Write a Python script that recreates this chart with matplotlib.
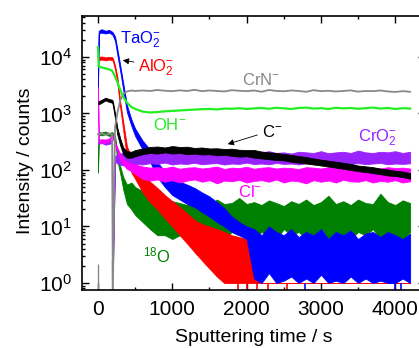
import numpy as np
import matplotlib
matplotlib.use('Agg')
import matplotlib.pyplot as plt
from matplotlib.ticker import MultipleLocator, LogLocator, NullFormatter

plt.rcParams['font.family'] = ['Liberation Sans', 'DejaVu Sans']
plt.rcParams['mathtext.fontset'] = 'custom'
plt.rcParams['mathtext.rm'] = 'Liberation Sans'
plt.rcParams['mathtext.it'] = 'Liberation Sans:italic'

# sputtering time grid (s)
t = [0, 10, 50, 100, 150, 190, 200, 230, 260, 300, 340, 390, 450, 500,
     600, 700, 800, 900, 1000, 1100, 1200, 1300, 1400, 1500, 1600, 1700,
     1800, 1900, 2000, 2100, 2200, 2300, 2400, 2500, 2600, 2700, 2800,
     2900, 3000, 3100, 3200, 3300, 3400, 3500, 3600, 3700, 3800, 3900,
     4000, 4100, 4200]

# CrN- (grey) and OH- (light green): narrow traces
crn = [430, 430, 440, 420, 435, 430, 0.7, 575, 1000, 1700, 2200, 2450, 2550, 2500,
       2550, 2500, 2600, 2520, 2480, 2560, 2500, 2620, 2480, 2550, 2500, 2450,
       2580, 2520, 2480, 2550, 2420, 2600, 2500, 2470, 2550, 2500, 2420,
       2580, 2480, 2520, 2450, 2500, 2560, 2430, 2500, 2480, 2550, 2450,
       2400, 2480, 2420]
oh = [15000, 6800, 6500, 6300, 6000, 5700, 5400, 4500, 3600, 2600, 1950, 1550, 1300, 1200,
      1080, 1040, 1060, 1090, 1110, 1130, 1150, 1170, 1190, 1200, 1180, 1220,
      1210, 1240, 1200, 1230, 1250, 1210, 1260, 1230, 1200, 1250, 1270,
      1220, 1240, 1200, 1260, 1230, 1250, 1210, 1240, 1270, 1220, 1250,
      1200, 1240, 1220]

# noisy traces: lower / upper envelope
tao2_lo = [2900, 26000, 27000, 26000, 27000, 25000, 24000, 19000, 11000, 5500, 2600, 1050, 600, 400,
           230, 140, 75, 50, 36, 30, 25, 22, 18, 15, 12, 10,
           8, 7, 6, 1.2, 1.0, 1.5, 1.0, 1.1, 1.3, 1.0, 1.2,
           1.0, 1.4, 1.0, 1.1, 1.0, 1.3, 1.0, 1.2, 1.0, 1.1, 1.0,
           1.0, 1.2, 1.0]
tao2_hi = [2900, 29000, 31000, 29000, 30000, 28000, 27000, 23000, 14000, 7000, 3400, 1400, 780, 540,
           330, 230, 135, 95, 72, 62, 55, 48, 40, 34, 27, 21,
           15, 12, 10, 9, 7, 10, 8, 7, 9, 6.5, 8,
           7, 9, 6, 8, 7, 8.5, 6, 7.5, 8, 6.5, 8,
           7, 6, 7.5]

alo2_lo = [9000, 8800, 9000, 8700, 9000, 8800, 8500, 6000, 3500, 1250, 500, 160, 90, 70,
           40, 27, 20, 14, 10, 7, 5, 3.5, 2.5, 1.8, 1.3, 1.0,
           1.0, 1.0, 1.0, 1.0, 1.0, 1.0, 1.0, 1.0, 1.0, 1.0, 1.0,
           1.0, 1.0, 1.0, 1.0, 1.0, 1.0, 1.0, 1.0, 1.0, 1.0, 1.0,
           1.0, 1.0, 1.0]
alo2_hi = [9000, 10000, 10200, 9800, 10000, 9900, 9500, 7000, 4500, 1600, 700, 260, 170, 130,
           85, 62, 48, 36, 28, 22, 17, 13, 11, 10, 9, 8,
           7, 6.5, 6, 2, 1.0, 1.0, 1.0, 1.0, 1.0, 1.0, 1.0,
           1.0, 1.0, 1.0, 1.0, 1.0, 1.0, 1.0, 1.0, 1.0, 1.0, 1.0,
           1.0, 1.0, 1.0]

o18_lo = [90, 420, 410, 430, 400, 420, 400, 330, 150, 85, 45, 25, 20, 16,
          12, 9, 7, 7, 6, 7, 6, 8, 5, 7, 8, 6,
          8, 7, 9, 6, 8, 7, 6, 9, 7, 8, 6,
          7, 9, 6, 8, 7, 6, 8, 7, 9, 6, 8,
          7, 6, 8]
o18_hi = [90, 470, 460, 480, 450, 470, 450, 400, 200, 115, 75, 55, 60, 50,
          42, 35, 32, 30, 28, 26, 24, 28, 25, 24, 30, 25,
          26, 32, 25, 27, 24, 29, 26, 23, 28, 25, 30,
          24, 27, 35, 25, 28, 24, 30, 26, 25, 38, 27,
          24, 29, 26]

c_lo = [1500, 1450, 1550, 1700, 1600, 1550, 1400, 800, 420, 270, 190, 165, 165, 175,
        190, 200, 195, 205, 195, 200, 190, 195, 188, 190, 182, 185,
        178, 172, 175, 165, 160, 155, 150, 148, 140, 135, 130,
        125, 120, 115, 110, 105, 100, 95, 92, 88, 84, 80,
        78, 75, 70]
c_hi = [1500, 1650, 1750, 1900, 1800, 1750, 1650, 1000, 560, 360, 250, 215, 210, 225,
        240, 255, 260, 250, 265, 255, 258, 245, 250, 240, 242, 235,
        238, 228, 225, 226, 212, 205, 200, 192, 185, 176, 170,
        160, 152, 146, 140, 134, 128, 120, 116, 112, 106, 102,
        97, 94, 88]

cro2_lo = [300, 290, 300, 280, 290, 300, 1.5, 140, 130, 125, 120, 125, 130, 128,
           125, 132, 128, 135, 125, 130, 128, 134, 126, 130, 132, 125,
           130, 128, 135, 127, 130, 126, 133, 128, 130, 125, 132,
           128, 130, 134, 126, 130, 128, 132, 127, 130, 133, 126,
           130, 128, 131]
cro2_hi = [300, 330, 340, 320, 330, 340, 1.5, 175, 190, 195, 200, 205, 195, 210,
           200, 205, 195, 215, 200, 205, 195, 210, 200, 205, 215, 195,
           205, 200, 210, 198, 205, 215, 200, 205, 195, 210, 205,
           200, 215, 198, 205, 210, 200, 220, 205, 200, 210, 205,
           215, 200, 210]

cl_lo = [2900, 300, 310, 300, 320, 380, 360, 270, 210, 155, 125, 105, 95, 85,
         70, 65, 68, 62, 66, 60, 65, 68, 62, 66, 58, 65,
         63, 67, 60, 64, 66, 62, 68, 60, 65, 63, 58,
         66, 62, 65, 60, 67, 63, 62, 66, 60, 64, 62,
         66, 60, 63]
cl_hi = [2900, 340, 350, 345, 360, 430, 410, 310, 250, 190, 160, 140, 130, 125,
         115, 110, 112, 108, 115, 105, 110, 112, 106, 110, 115, 104,
         110, 108, 114, 105, 110, 112, 106, 110, 108, 104, 112,
         110, 106, 112, 108, 110, 104, 112, 108, 110, 106, 112,
         108, 110, 106]

# zero-count drops and the grey stubs near the start
alo2_zero_t = [1880, 2000, 2140, 2290, 2540]
tao2_zero_t = [2780, 4000, 4080]
crn_stub_t = [0, 190]
crn_stub_top = [2.2, 2.6]

fig = plt.figure(figsize=(4.19, 3.48), dpi=100)
ax = fig.add_axes([82 / 419, 58 / 348, 343 / 419, 274 / 348])

ax.plot(t, crn, color='#888888', lw=1.3)
ax.vlines(crn_stub_t, 0.5, crn_stub_top, color='#888888', lw=1.0)
ax.fill_between(t, o18_lo, o18_hi, color='#008000', lw=0.6)
ax.fill_between(t, alo2_lo, alo2_hi, color='#ff0000', lw=0.6)
ax.vlines(alo2_zero_t, 0.5, 1.0, color='#ff0000', lw=1.2)
ax.fill_between(t, tao2_lo, tao2_hi, color='#0000ff', lw=0.6)
ax.vlines(tao2_zero_t, 0.5, 1.0, color='#0000ff', lw=1.2)
ax.plot(t, oh, color='#22ee22', lw=1.6)
ax.fill_between(t, cro2_lo, cro2_hi, color='#9922ff', lw=0.6)
ax.fill_between(t, cl_lo, cl_hi, color='#ff00ff', lw=0.6)
ax.fill_between(t, c_lo, c_hi, color='#000000', lw=0.6)

ax.set_yscale('log')
ax.set_xlim(-215, 4400)
ax.set_ylim(0.752, 53000)
ax.xaxis.set_major_locator(MultipleLocator(1000))
ax.xaxis.set_minor_locator(MultipleLocator(500))
ax.yaxis.set_major_locator(LogLocator(base=10, numticks=10))
ax.yaxis.set_minor_locator(LogLocator(base=10, subs=np.arange(2, 10), numticks=10))
ax.yaxis.set_minor_formatter(NullFormatter())
ax.tick_params(which='both', direction='in', top=True, right=True, labelsize=15, width=1.0)
ax.tick_params(which='major', length=5, pad=7)
ax.tick_params(which='minor', length=2.5)
for s in ax.spines.values():
    s.set_linewidth(1.2)

fig.text(254 / 419, 1 - 338 / 348, 'Sputtering time / s', ha='center', va='center', fontsize=14)
fig.text(25 / 419, 1 - 161 / 348, 'Intensity / counts', ha='center', va='center',
         rotation=90, fontsize=14)

# species labels
ax.text(296, 17600, 'TaO$_2^{-}$', color='#0000ff', fontsize=12, va='baseline')
ax.text(538, 5430, 'AlO$_2^{-}$', color='#ff0000', fontsize=12, va='baseline')
ax.annotate('', xy=(296, 8850), xytext=(520, 8000),
            arrowprops=dict(arrowstyle='-|>', color='black', lw=0.6, mutation_scale=9))
ax.text(1938, 3190, 'CrN$^{-}$', color='#888888', fontsize=12, va='baseline')
ax.text(740, 511, 'OH$^{-}$', color='#22ee22', fontsize=12, va='baseline')
ax.text(2207, 384, 'C$^{-}$', color='black', fontsize=12, va='baseline')
ax.annotate('', xy=(1709, 277), xytext=(2180, 430),
            arrowprops=dict(arrowstyle='-|>', color='black', lw=0.6, mutation_scale=9))
ax.text(3500, 313, 'CrO$_2^{-}$', color='#9922ff', fontsize=12, va='baseline')
ax.text(1885, 33, 'Cl$^{-}$', color='#ff00ff', fontsize=12, va='baseline')
ax.text(606, 2.36, '$^{18}$O', color='#008000', fontsize=12, va='baseline')

fig.savefig('out.png', dpi=100)
